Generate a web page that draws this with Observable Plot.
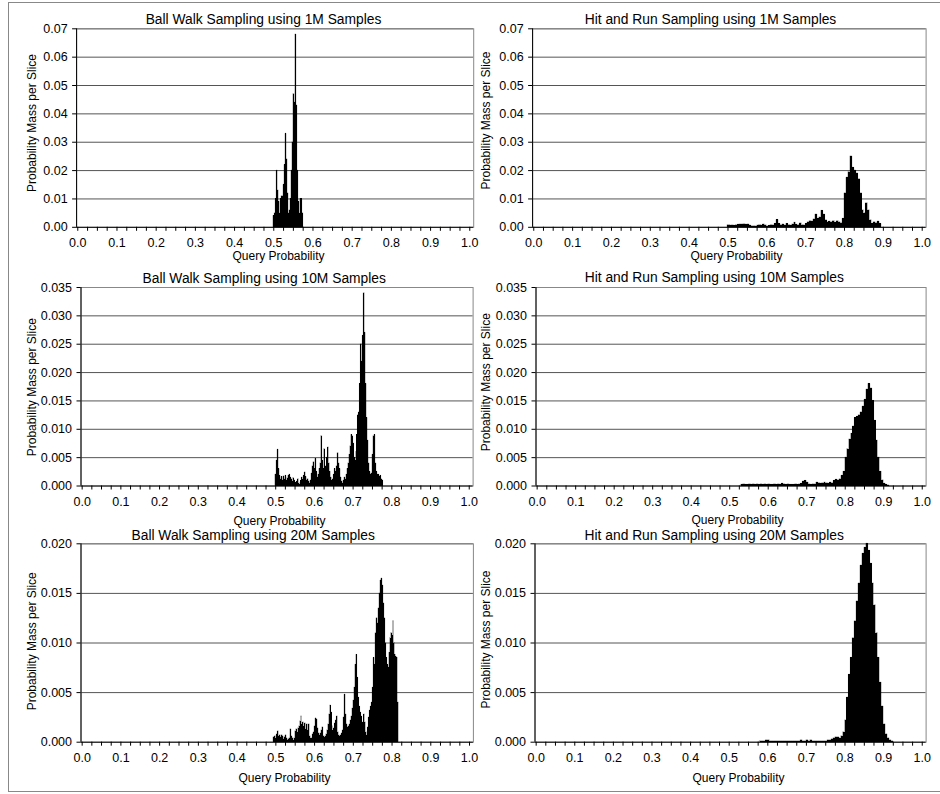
<!DOCTYPE html>
<html><head><meta charset="utf-8">
<script src="https://cdn.jsdelivr.net/npm/d3@7"></script>
<script src="https://cdn.jsdelivr.net/npm/@observablehq/plot@0.6"></script>
<style>
body{margin:0;background:#fff;}
#wrap{position:relative;width:940px;height:794px;overflow:hidden;background:#fff;}
.panel{position:absolute;}
.border{position:absolute;box-sizing:border-box;border-left:1px solid #888;border-top:1px solid #888;border-bottom:1px solid #888;}
</style></head><body><div id="wrap"><div class="border" style="left:8px;top:2px;width:932px;height:790px"></div></div>
<script>
// ---- data ----
const xMajorTicks = [0, 0.1, 0.2, 0.3, 0.4, 0.5, 0.6, 0.7, 0.8, 0.9, 1.0];
const xMinorTicks = d3.range(41).map(i => i / 40);
const yTicks1M = [0, 0.01, 0.02, 0.03, 0.04, 0.05, 0.06, 0.07];
const yTicks10M = [0, 0.005, 0.010, 0.015, 0.020, 0.025, 0.030, 0.035];
const yTicks20M = [0, 0.005, 0.010, 0.015, 0.020];

const titles = [
  "Ball Walk Sampling using 1M Samples", "Hit and Run Sampling using 1M Samples",
  "Ball Walk Sampling using 10M Samples", "Hit and Run Sampling using 10M Samples",
  "Ball Walk Sampling using 20M Samples", "Hit and Run Sampling using 20M Samples"
];
const xLabel = "Query Probability";
const yLabel = "Probability Mass per Slice";

// Ball Walk 1M: slices start 0.500, width 0.0025
const ballWalk1MStart = 0.500, ballWalk1MWidth = 0.0025;
const ballWalk1M = [0.004,0.005,0.010,0.020,0.013,0.009,0.005,0.010,0.011,0.011,0.015,0.022,0.033,0.024,0.012,0.005,0.006,0.010,0.020,0.030,0.047,0.044,0.068,0.043,0.020,0.009,0.005,0.010,0.010,0.005];

// Hit and Run 1M: slices start 0.500, width 0.005
const hitRun1MStart = 0.500, hitRun1MWidth = 0.005;
const hitRun1M = [0.0008,0.0006,0.0007,0.0005,0.0008,0.0009,0.0010,0.0010,0.0011,0.0009,
  0.0010,0.0006,0.0004,0.0004,0.0003,0.0006,0.0008,0.0006,0.0010,0.0007,
  0.0004,0.0005,0.0008,0.0006,0.0012,0.0026,0.0012,0.0008,0.0010,0.0006,
  0.0012,0.0008,0.0006,0.0010,0.0016,0.0009,0.0008,0.0014,0.0008,0.0006,
  0.0012,0.0018,0.0022,0.0020,0.0028,0.0045,0.0030,0.0035,0.0058,0.0045,
  0.0025,0.0018,0.0020,0.0018,0.0022,0.0016,0.0022,0.0018,0.0015,0.0030,
  0.0120,0.0175,0.0195,0.0250,0.0210,0.0200,0.0190,0.0170,0.0120,0.0060,
  0.0050,0.0085,0.0060,0.0025,0.0012,0.0018,0.0015,0.0020,0.0012];

// Ball Walk 10M: slices start 0.500, width 0.0025
const ballWalk10MStart = 0.500, ballWalk10MWidth = 0.0025;
const ballWalk10M = [0.0020,0.0045,0.0064,0.0030,0.0018,0.0012,0.0016,0.0010,0.0017,0.0012,
  0.0018,0.0010,0.0014,0.0018,0.0020,0.0015,0.0012,0.0008,0.0014,0.0010,
  0.0006,0.0004,0.0008,0.0012,0.0005,0.0003,0.0009,0.0015,0.0012,0.0018,
  0.0024,0.0016,0.0010,0.0012,0.0008,0.0005,0.0010,0.0022,0.0035,0.0042,
  0.0030,0.0048,0.0025,0.0015,0.0020,0.0030,0.0040,0.0088,0.0045,0.0030,
  0.0065,0.0035,0.0025,0.0050,0.0068,0.0040,0.0025,0.0015,0.0010,0.0012,
  0.0020,0.0030,0.0025,0.0035,0.0058,0.0040,0.0030,0.0015,0.0008,0.0005,
  0.0010,0.0015,0.0012,0.0020,0.0030,0.0040,0.0055,0.0070,0.0090,0.0088,
  0.0075,0.0050,0.0045,0.0060,0.0090,0.0125,0.0130,0.0180,0.0250,0.0220,
  0.0265,0.0340,0.0270,0.0180,0.0120,0.0080,0.0040,0.0025,0.0020,0.0022,
  0.0055,0.0088,0.0090,0.0040,0.0025,0.0020,0.0020,0.0016,0.0018,0.0012,
  0.0010];

// Hit and Run 10M: slices start 0.530, width 0.005
const hitRun10MStart = 0.530, hitRun10MWidth = 0.005;
const hitRun10M = [0.0002,0.0003,0.0002,0.0002,0.0003,0.0002,0.0003,0.0002,0.0003,0.0002,
  0.0003,0.0002,0.0003,0.0002,0.0003,0.0002,0.0002,0.0003,0.0002,0.0003,
  0.0002,0.0004,0.0003,0.0002,0.0003,0.0002,0.0002,0.0002,0.0003,0.0002,
  0.0003,0.0004,0.0008,0.0009,0.0006,0.0003,0.0002,0.0003,0.0003,0.0006,
  0.0005,0.0004,0.0005,0.0006,0.0005,0.0004,0.0006,0.0005,0.0009,0.0011,
  0.0010,0.0012,0.0018,0.0025,0.0050,0.0065,0.0082,0.0092,0.0105,0.0120,
  0.0122,0.0125,0.0130,0.0140,0.0152,0.0170,0.0180,0.0172,0.0150,0.0115,
  0.0080,0.0050,0.0025,0.0010,0.0004,0.0002,0.0001];

// Ball Walk 20M: slices start 0.495, width 0.0025
const ballWalk20MStart = 0.495, ballWalk20MWidth = 0.0025;
const ballWalk20M = [0.0005,0.0006,0.0004,0.0008,0.0011,0.0006,0.0007,0.0005,0.0007,0.0006,
  0.0003,0.0005,0.0007,0.0004,0.0002,0.0003,0.0004,0.0013,0.0006,0.0004,
  0.0002,0.0004,0.0011,0.0013,0.0010,0.0014,0.0016,0.0021,0.0026,0.0018,
  0.0020,0.0016,0.0019,0.0013,0.0018,0.0012,0.0018,0.0006,0.0004,0.0004,
  0.0008,0.0010,0.0016,0.0024,0.0023,0.0014,0.0009,0.0007,0.0009,0.0012,
  0.0015,0.0006,0.0005,0.0006,0.0008,0.0012,0.0018,0.0028,0.0037,0.0030,
  0.0016,0.0012,0.0014,0.0019,0.0022,0.0026,0.0010,0.0007,0.0006,0.0007,
  0.0009,0.0012,0.0025,0.0048,0.0028,0.0018,0.0015,0.0016,0.0018,0.0022,
  0.0026,0.0034,0.0042,0.0055,0.0078,0.0088,0.0065,0.0045,0.0036,0.0030,
  0.0026,0.0020,0.0016,0.0028,0.0020,0.0010,0.0007,0.0015,0.0025,0.0032,
  0.0036,0.0040,0.0055,0.0085,0.0078,0.0110,0.0125,0.0120,0.0135,0.0150,
  0.0163,0.0165,0.0158,0.0140,0.0125,0.0100,0.0085,0.0078,0.0075,0.0090,
  0.0105,0.0110,0.0108,0.0122,0.0100,0.0088,0.0086,0.0085,0.0040];

// Hit and Run 20M: slices start 0.580, width 0.005
const hitRun20MStart = 0.580, hitRun20MWidth = 0.005;
const hitRun20M = [0.0001,0.0001,0.0001,0.0002,0.0002,0.0001,0.0001,0.0001,0.0001,0.0001,
  0.0001,0.0001,0.0001,0.0001,0.0001,0.0001,0.0001,0.0001,0.0001,0.0001,
  0.0001,0.0002,0.0001,0.0001,0.0002,0.0001,0.0002,0.0001,0.0001,0.0001,
  0.0001,0.0001,0.0001,0.0001,0.0001,0.0002,0.0002,0.0003,0.0004,0.0005,
  0.0005,0.0004,0.0006,0.0010,0.0022,0.0045,0.0068,0.0085,0.0105,0.0122,
  0.0142,0.0160,0.0178,0.0190,0.0196,0.0200,0.0193,0.0180,0.0160,0.0138,
  0.0110,0.0085,0.0060,0.0036,0.0018,0.0008,0.0004,0.0002,0.0001];

// ---- layout ----
const FONT = "'Liberation Sans', Arial, Helvetica, sans-serif";
const xDomain = [-0.003, 1.01];
const rows = [
  {top: 0, h: 262, mt: 28.3, mb: 35.2},
  {top: 262, h: 266, mt: 25, mb: 42.5},
  {top: 528, h: 266, mt: 15.3, mb: 52.3}
];
const cols = [{left: 0, w: 476}, {left: 476, w: 464}];

const panels = [
  {row:0,col:0,ml:76.1,mr:2.8,vals:ballWalk1M,start:ballWalk1MStart,bw:ballWalk1MWidth,ticks:yTicks1M,fmt:".2f",
   title:[263,19.5],xl:[278,255.5],yl:[32,122.5]},
  {row:0,col:1,ml:56.1,mr:14.4,vals:hitRun1M,start:hitRun1MStart,bw:hitRun1MWidth,ticks:yTicks1M,fmt:".2f",
   title:[710,19.5],xl:[736,255.5],yl:[486,120]},
  {row:1,col:0,ml:80.5,mr:3.4,vals:ballWalk10M,start:ballWalk10MStart,bw:ballWalk10MWidth,ticks:yTicks10M,fmt:".3f",
   title:[263.7,278],xl:[279,520.5],yl:[32,386.7]},
  {row:1,col:1,ml:59.5,mr:14.4,vals:hitRun10M,start:hitRun10MStart,bw:hitRun10MWidth,ticks:yTicks10M,fmt:".3f",
   title:[713.8,277.5],xl:[737,520],yl:[486,381.7]},
  {row:2,col:0,ml:80.5,mr:3.1,vals:ballWalk20M,start:ballWalk20MStart,bw:ballWalk20MWidth,ticks:yTicks20M,fmt:".3f",
   title:[252.7,535],xl:[284,778],yl:[32,640.8]},
  {row:2,col:1,ml:58.5,mr:14.4,vals:hitRun20M,start:hitRun20MStart,bw:hitRun20MWidth,ticks:yTicks20M,fmt:".3f",
   title:[713.7,535],xl:[738,778],yl:[486,639]}
];

const wrap = document.getElementById("wrap");
const xFmt = d => (xMajorTicks.some(t => Math.abs(t - d) < 1e-9) ? d.toFixed(1) : "");

panels.forEach((p, i) => {
  const r = rows[p.row], c = cols[p.col];
  // step outline of each slice: left and right edge at the slice's value
  const outline = p.vals.flatMap((v, k) => [
    {x: p.start + k * p.bw, y: v},
    {x: p.start + (k + 1) * p.bw, y: v}
  ]);
  const ox = c.left + p.ml, oy = r.top + r.mt; // absolute position of frame's top-left
  const yMax = p.ticks[p.ticks.length - 1];
  const yf = d3.format(p.fmt);
  const svg = Plot.plot({
    width: c.w, height: r.h,
    marginLeft: p.ml, marginRight: p.mr, marginTop: r.mt, marginBottom: r.mb,
    x: {domain: xDomain, label: null},
    y: {domain: [0, yMax], label: null},
    style: {fontFamily: FONT, fontSize: "12px", color: "black", background: "transparent", overflow: "visible"},
    marks: [
      Plot.ruleY(p.ticks.slice(1), {stroke: "#555", strokeWidth: 1}),
      Plot.frame({stroke: "#888"}),
      Plot.areaY(outline, {x: "x", y1: 0, y2: "y", fill: "black", stroke: "black", strokeWidth: 0.3,
        curve: "linear", shapeRendering: "crispEdges"}),
      Plot.ruleX([xDomain[0]], {stroke: "black"}),
      Plot.ruleY([0], {stroke: "black"}),
      Plot.axisX(xMinorTicks, {tickSize: 4, tickPadding: 7, tickFormat: xFmt, fontSize: 12.5, label: null}),
      Plot.axisY(p.ticks, {tickSize: 4, tickPadding: 5, tickFormat: yf, fontSize: 12.5, label: null}),
      Plot.text([titles[i]], {text: d => d, frameAnchor: "top-left", dx: p.title[0] - ox, dy: p.title[1] - oy,
        fontSize: 13.8, textAnchor: "middle", lineAnchor: "middle", fill: "black"}),
      Plot.text([xLabel], {text: d => d, frameAnchor: "top-left", dx: p.xl[0] - ox, dy: p.xl[1] - oy,
        fontSize: 12, textAnchor: "middle", lineAnchor: "middle", fill: "black"}),
      Plot.text([yLabel], {text: d => d, frameAnchor: "top-left", dx: p.yl[0] - ox, dy: p.yl[1] - oy,
        fontSize: 12, textAnchor: "middle", lineAnchor: "middle", rotate: -90, fill: "black"})
    ]
  });
  svg.classList.add("panel");
  svg.style.left = c.left + "px";
  svg.style.top = r.top + "px";
  svg.style.position = "absolute";
  wrap.appendChild(svg);
});
</script></body></html>
